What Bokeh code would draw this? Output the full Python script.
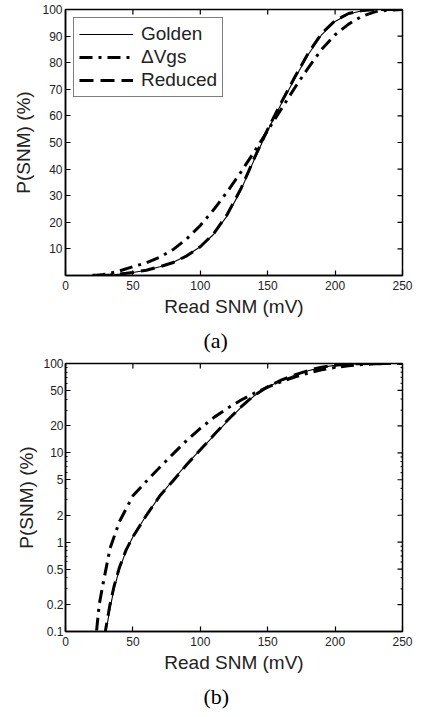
import math
from bokeh.plotting import figure
from bokeh.layouts import column
from bokeh.models import (LinearAxis, LogAxis, FixedTicker, NumeralTickFormatter,
                          Title, Legend, LegendItem, Range1d)
from bokeh.embed import file_html
from bokeh.resources import INLINE

# ---------------- data ----------------
golden_x = [25, 28, 30, 33, 36, 40, 45, 50, 60, 70, 80, 90, 100, 110, 120, 130,
            140, 150, 160, 170, 180, 190, 200, 210, 220, 230, 250]
golden_p = [0.03, 0.06, 0.1, 0.18, 0.3, 0.5, 0.8, 1.15, 2.0, 3.3, 5.0, 7.5, 10.8,
            15.5, 22.5, 32, 43.5, 54.5, 64.5, 74, 83, 90.5, 95.5, 98.3, 99.5, 100, 100]

reduced_x = [25, 28, 30, 33, 36, 40, 45, 50, 60, 70, 80, 90, 100, 110, 120, 130,
             140, 150, 160, 170, 180, 190, 200, 210, 220, 230, 250]
reduced_p = [0.03, 0.07, 0.11, 0.2, 0.32, 0.52, 0.82, 1.15, 2.0, 3.3, 4.9, 7.4, 10.8,
             15.8, 23, 32.5, 44, 55, 65, 74.5, 83.5, 91, 95.8, 98.5, 99.6, 100, 100]

dvgs_x = [20, 23, 25, 28, 33, 40, 50, 60, 70, 80, 90, 100, 110, 120, 130, 140,
          150, 160, 170, 180, 190, 200, 210, 220, 230, 240, 250]
dvgs_p = [0.05, 0.1, 0.2, 0.35, 0.85, 1.7, 3.3, 4.8, 6.9, 9.8, 13.8, 18.8, 24.8,
          31.5, 38.8, 46.5, 54.5, 62.5, 70.5, 78, 85, 90.5, 94.5, 97.5, 99.2, 99.8, 100]

x_ticks = [0, 50, 100, 150, 200, 250]
lin_y_ticks = [10, 20, 30, 40, 50, 60, 70, 80, 90, 100]
log_y_ticks = [0.1, 0.2, 0.5, 1, 2, 5, 10, 20, 50, 100]
log_minor = [0.3, 0.4, 0.6, 0.7, 0.8, 0.9, 3, 4, 6, 7, 8, 9, 30, 40, 60, 70, 80, 90]

series_names = ["Golden", "\u0394Vgs", "Reduced"]
x_label = "Read SNM (mV)"
y_label = "P(SNM) (%)"
captions = ["(a)", "(b)"]

X_MIN, X_MAX = 0, 250
LIN_Y = (0, 100)
LOG_Y = (0.1, 100)

FONT = "Liberation Sans"
SERIF = "Liberation Serif"
INK = "#222222"


def style_axis(ax, label_standoff, axis_standoff):
    ax.axis_line_color = "black"
    ax.axis_line_width = 1.5
    ax.major_tick_in = 5
    ax.major_tick_out = 0
    ax.major_tick_line_color = "black"
    ax.major_tick_line_width = 1.2
    ax.minor_tick_in = 2
    ax.minor_tick_out = 0
    ax.minor_tick_line_color = "black"
    ax.major_label_text_font = FONT
    ax.major_label_text_color = INK
    ax.major_label_text_font_size = "12px"
    ax.major_label_standoff = label_standoff
    ax.axis_label_text_font = FONT
    ax.axis_label_text_font_style = "normal"
    ax.axis_label_text_color = INK
    ax.axis_label_text_font_size = "19px"
    ax.axis_label_standoff = axis_standoff


def make_fig(log, height, left, right, top, bottom, caption, ystd):
    yr = LOG_Y if log else LIN_Y
    kw = dict(output_backend="svg", toolbar_location=None,
              width=421, height=height,
              x_range=Range1d(X_MIN, X_MAX), y_range=Range1d(*yr),
              min_border_left=left, min_border_right=right,
              min_border_top=top, min_border_bottom=bottom,
              x_axis_location=None, y_axis_location=None)
    if log:
        p = figure(y_axis_type="log", **kw)
    else:
        p = figure(**kw)
    p.grid.visible = False
    p.outline_line_color = "black"
    p.outline_line_width = 1.5
    p.background_fill_color = "white"
    p.border_fill_color = "white"

    xt = FixedTicker(ticks=x_ticks, minor_ticks=[])
    xb = LinearAxis(ticker=xt, axis_label=x_label)
    style_axis(xb, 5, 3)
    p.add_layout(xb, "below")

    if log:
        yt = FixedTicker(ticks=log_y_ticks, minor_ticks=log_minor)
        yl = LogAxis(ticker=yt, axis_label=y_label)
        style_axis(yl, *ystd)
        yl.formatter = NumeralTickFormatter(format="0.[0]")
        yticks, yminor = log_y_ticks, log_minor
    else:
        yt = FixedTicker(ticks=lin_y_ticks, minor_ticks=[])
        yl = LinearAxis(ticker=yt, axis_label=y_label)
        style_axis(yl, *ystd)
        yticks, yminor = lin_y_ticks, []
    p.add_layout(yl, "left")

    # inward ticks on the top and right edges of the box
    p.scatter(x_ticks, [yr[1]] * len(x_ticks), marker="dash", angle=math.pi / 2,
              size=10, line_color="black", line_width=1.2)
    p.scatter([X_MAX] * len(yticks), yticks, marker="dash",
              size=10, line_color="black", line_width=1.2)
    if yminor:
        p.scatter([X_MAX] * len(yminor), yminor, marker="dash",
                  size=4, line_color="black", line_width=1)

    cap = Title(text=caption, align="left", text_font=SERIF,
                text_font_size="22px", text_font_style="normal",
                text_color="black", offset=138, standoff=12)
    p.add_layout(cap, "below")
    return p


def add_lines(p):
    r1 = p.line(golden_x, golden_p, line_color="black", line_width=1.1)
    r2 = p.line(dvgs_x, dvgs_p, line_color="black", line_width=3,
                line_dash="13 6 3 6")
    r3 = p.line(reduced_x, reduced_p, line_color="black", line_width=3,
                line_dash="14 7")
    return [r1, r2, r3]


p1 = make_fig(False, 358, 65, 14, 9, 81, captions[0], (3, 5))
rs = add_lines(p1)
legend = Legend(items=[LegendItem(label=n, renderers=[r]) for n, r in zip(series_names, rs)],
                location="top_left", margin=8, padding=5, spacing=1,
                glyph_width=54, glyph_height=20, label_height=20,
                label_standoff=8, label_text_font=FONT, label_text_font_size="19px",
                label_text_color=INK,
                border_line_color="black", border_line_width=1.2,
                background_fill_color="white", background_fill_alpha=1.0)
p1.add_layout(legend)

p2 = make_fig(True, 359, 59, 19, 5, 86, captions[1], (2, 3))
add_lines(p2)

layout = column(p1, p2, spacing=0)
open("out.html", "w").write(file_html(layout, INLINE))
